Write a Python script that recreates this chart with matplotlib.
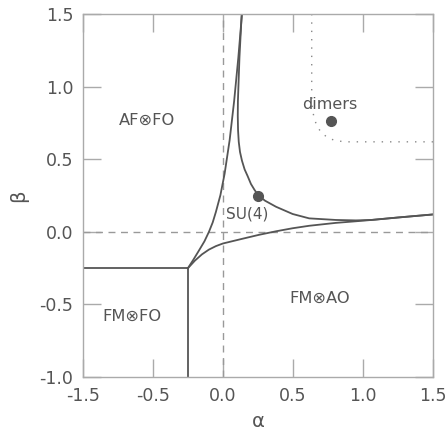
import numpy as np
import matplotlib
matplotlib.use('Agg')
import matplotlib.pyplot as plt

# phase boundaries (alpha, beta)
curve_a_x = [-0.25, -0.21, -0.169, -0.132, -0.10, -0.073, -0.05, -0.018, 0.012, 0.048, 0.08, 0.11, 0.136]
curve_a_y = [-0.25, -0.19, -0.125, -0.065, 0.0, 0.065, 0.138, 0.253, 0.40, 0.632, 0.9, 1.2, 1.5]

curve_b_x = [-0.25, -0.2, -0.15, -0.1, -0.05, 0.0, 0.141, 0.259, 0.379, 0.498, 0.616, 0.807, 0.95, 1.06, 1.25, 1.5]
curve_b_y = [-0.25, -0.198, -0.155, -0.122, -0.098, -0.08, -0.047, -0.02, 0.004, 0.025, 0.042, 0.062, 0.073, 0.082, 0.099, 0.12]

curve_c_x = [0.134, 0.118, 0.107, 0.106, 0.108, 0.113, 0.122, 0.136, 0.155, 0.176, 0.2, 0.225, 0.252,
             0.3, 0.379, 0.498, 0.616, 0.807, 0.95, 1.06, 1.25, 1.5]
curve_c_y = [1.5, 1.2, 0.9, 0.8, 0.7, 0.62, 0.55, 0.49, 0.43, 0.385, 0.33, 0.29, 0.253,
             0.215, 0.173, 0.123, 0.093, 0.082, 0.079, 0.082, 0.099, 0.12]

# straight borders of the FM/FO region
fmfo_x = [-1.0, -0.25, -0.25]
fmfo_y = [-0.25, -0.25, -1.0]

# dimer region (dotted)
dimer_x = [0.634, 0.634, 0.638, 0.652, 0.675, 0.712, 0.755, 0.793, 0.864, 1.5]
dimer_y = [1.5, 0.95, 0.85, 0.78, 0.72, 0.675, 0.645, 0.632, 0.620, 0.62]

points = {'SU(4)': (0.25, 0.25), 'dimers': (0.77, 0.765)}

labels = ['AF⊗FO', 'FM⊗FO', 'FM⊗AO']
label_pos = [(-0.54, 0.77), (-0.65, -0.58), (0.69, -0.46)]

xticks = [-1.0, -0.5, 0.0, 0.5, 1.0, 1.5]
xticklabels = ['-1.5', '-0.5', '0.0', '0.5', '1.0', '1.5']
yticks = [-1.0, -0.5, 0.0, 0.5, 1.0, 1.5]
yticklabels = ['-1.0', '-0.5', '0.0', '0.5', '1.0', '1.5']

dark = '#555555'
light = '#aaaaaa'

fig = plt.figure(figsize=(4.48, 4.30), dpi=100)
ax = fig.add_axes([0.185, 0.123, 0.7815, 0.8444])

ax.axvline(0, color='#999999', lw=1, ls=(0, (5, 4)))
ax.axhline(0, color='#999999', lw=1, ls=(0, (5, 4)))

ax.plot(fmfo_x, fmfo_y, color=dark, lw=1.3)
ax.plot(curve_a_x, curve_a_y, color=dark, lw=1.3)
ax.plot(curve_b_x, curve_b_y, color=dark, lw=1.3)
ax.plot(curve_c_x, curve_c_y, color=dark, lw=1.3)
ax.plot(dimer_x, dimer_y, color='#888888', lw=1.0, ls=(0, (1, 5)))

for name, (px, py) in points.items():
    ax.plot(px, py, 'o', color=dark, ms=7)
ax.text(0.176, 0.12, 'SU(4)', color=dark, fontsize=11, ha='center', va='center')
ax.text(0.766, 0.88, 'dimers', color=dark, fontsize=11.5, ha='center', va='center')

for lab, (px, py) in zip(labels, label_pos):
    ax.text(px, py, lab, color=dark, fontsize=11.7, ha='center', va='center')

ax.set_xlim(-1.0, 1.5)
ax.set_ylim(-1.0, 1.5)
ax.set_xticks(xticks)
ax.set_xticklabels(xticklabels)
ax.set_yticks(yticks)
ax.set_yticklabels(yticklabels)
ax.tick_params(direction='in', length=13, width=1, color=light, labelcolor=dark,
               labelsize=12.5, top=True, right=True, pad=7)
for s in ax.spines.values():
    s.set_color(light)
    s.set_linewidth(1)

ax.set_xlabel('α', color=dark, fontsize=14, labelpad=5)
ax.set_ylabel('β', color=dark, fontsize=14, labelpad=8)

fig.savefig('out.png', dpi=100)
